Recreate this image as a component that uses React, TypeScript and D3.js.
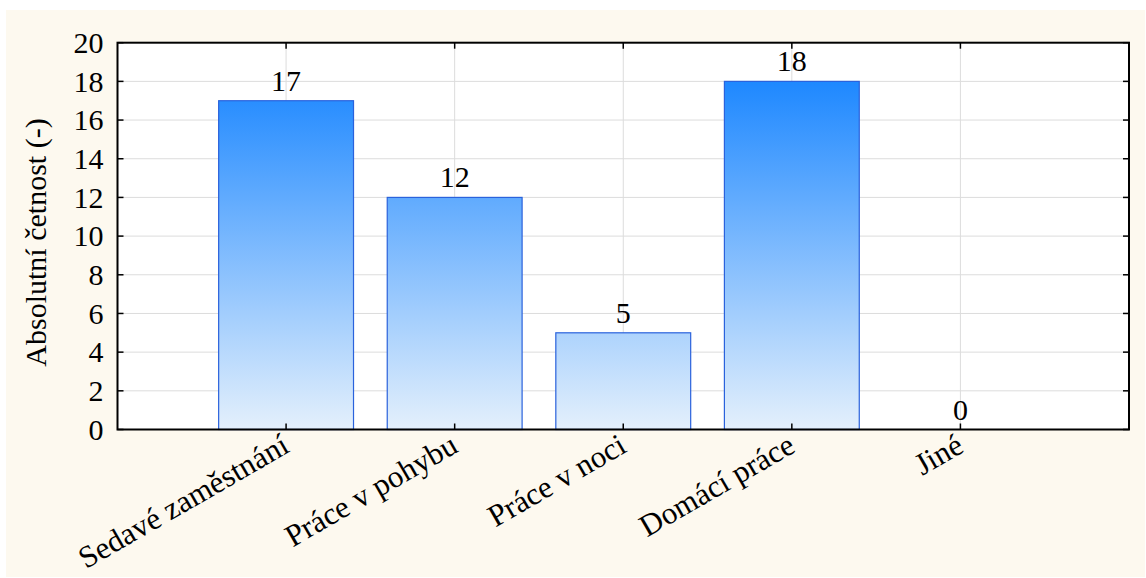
import React from "react";
import * as d3 from "d3";

const categories: string[] = ["Sedavé zaměstnání", "Práce v pohybu", "Práce v noci", "Domácí práce", "Jiné"];
const counts: number[] = [17, 12, 5, 18, 0];
const yTicks: number[] = [0, 2, 4, 6, 8, 10, 12, 14, 16, 18, 20];
const yLabel = "Absolutní četnost (-)";

const W = 1146;
const H = 578;
const M = { left: 117.5, top: 42.7, right: 1129, bottom: 429.5 };
const FONT = "Liberation Serif, Tinos, Times New Roman, DejaVu Serif, serif";

export default function App() {
  const x = d3.scalePoint<string>().domain(categories).range([M.left, M.right]).padding(1);
  const y = d3.scaleLinear().domain([0, 20]).range([M.bottom, M.top]);
  const step = x.step();
  const bw = step * 0.8;

  return (
    <svg width={W} height={H} style={{ position: "absolute", left: 0, top: 0, display: "block", fontFamily: FONT }}>
      <defs>
        <linearGradient id="barGrad" gradientUnits="userSpaceOnUse" x1={0} x2={0} y1={y(18)} y2={y(0)}>
          <stop offset="0" stopColor="#1e88ff" />
          <stop offset="1" stopColor="#e4f0fc" />
        </linearGradient>
      </defs>
      <rect x={0} y={0} width={W} height={H} fill="#ffffff" />
      <rect x={6} y={10} width={1139} height={567} fill="#fdf9ef" />
      <rect x={M.left} y={M.top} width={M.right - M.left} height={M.bottom - M.top} fill="#ffffff" />
      {yTicks.slice(1, -1).map((t) => (
        <line key={"gy" + t} x1={M.left} x2={M.right} y1={y(t)} y2={y(t)} stroke="#dcdcdc" strokeWidth={1} />
      ))}
      {categories.map((c) => (
        <line key={"gx" + c} x1={x(c)} x2={x(c)} y1={M.top} y2={M.bottom} stroke="#dcdcdc" strokeWidth={1} />
      ))}
      {categories.map((c, i) => {
        const v = counts[i];
        if (v <= 0) return null;
        const cx = x(c) as number;
        return (
          <rect
            key={"b" + c}
            x={cx - bw / 2}
            y={y(v)}
            width={bw}
            height={y(0) - y(v)}
            fill="url(#barGrad)"
            stroke="#2a62dc"
            strokeWidth={1.2}
          />
        );
      })}
      {categories.map((c, i) => (
        <text key={"v" + c} x={x(c)} y={y(counts[i]) - 10} textAnchor="middle" fontSize={30} fill="#000">
          {counts[i]}
        </text>
      ))}
      <rect x={M.left} y={M.top} width={M.right - M.left} height={M.bottom - M.top} fill="none" stroke="#000" strokeWidth={2} />
      {yTicks.map((t) => (
        <g key={"t" + t}>
          <line x1={M.left} x2={M.left + 6} y1={y(t)} y2={y(t)} stroke="#000" strokeWidth={1.5} />
          <line x1={M.right - 6} x2={M.right} y1={y(t)} y2={y(t)} stroke="#000" strokeWidth={1.5} />
          <text x={103.5} y={y(t)} dy="0.34em" textAnchor="end" fontSize={30} fill="#000">
            {t}
          </text>
        </g>
      ))}
      {categories.map((c) => {
        const cx = x(c) as number;
        return (
          <g key={"xt" + c}>
            <line x1={cx} x2={cx} y1={M.bottom} y2={M.bottom - 6} stroke="#000" strokeWidth={1.5} />
            <line x1={cx} x2={cx} y1={M.top} y2={M.top + 6} stroke="#000" strokeWidth={1.5} />
            <text transform={`translate(${cx + 5},${451}) rotate(-30)`} textAnchor="end" fontSize={31} fill="#000">
              {c}
            </text>
          </g>
        );
      })}
      <text transform={`translate(46,242.5) rotate(-90)`} textAnchor="middle" fontSize={30} fill="#000">
        {yLabel}
      </text>
    </svg>
  );
}
